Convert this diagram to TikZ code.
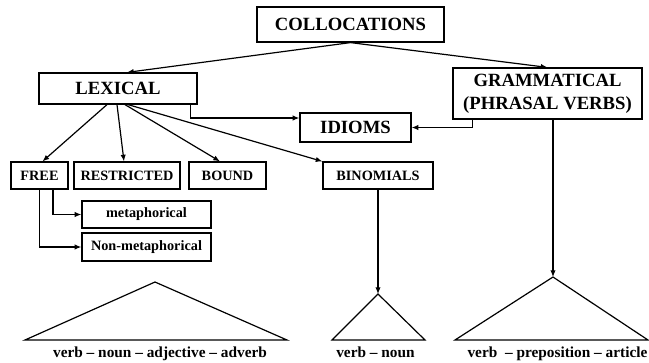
\documentclass[tikz,border=0pt]{standalone}
\usepackage{fontspec}
\setmainfont{Liberation Serif}
\usetikzlibrary{arrows.meta,calc}

\begin{document}
\begin{tikzpicture}[x=0.75pt,y=0.75pt,yscale=-1,xscale=1,
  box/.style={draw, line width=0.9pt, inner sep=0pt, align=center},
  bigtxt/.style={font=\fontsize{14}{17}\selectfont\bfseries},
  smalltxt/.style={font=\fontsize{10.7}{12}\selectfont\bfseries},
  basetxt/.style={font=\fontsize{11.5}{13}\selectfont\bfseries, inner sep=0pt, anchor=base},
  arr/.style={line width=0.9pt, -{Latex[length=5pt,width=4pt]}},
  tri/.style={line width=0.9pt, line join=miter}]
%set diagram to 649 x 362
\useasboundingbox (0,0) rectangle (649,362);

%Shape: Rectangle [top]
\node [box, bigtxt, minimum width=140.25pt, minimum height=26.25pt] (coll) at (350.5,24.5) {COLLOCATIONS};
%Shape: Rectangle [second row]
\node [box, bigtxt, minimum width=118.5pt, minimum height=23.25pt] (lex) at (118,88.5) {LEXICAL};
\node [box, bigtxt, minimum width=141.75pt, minimum height=38.25pt] (gram) at (547.5,93.5) {GRAMMATICAL\\(PHRASAL VERBS)};
\node [box, bigtxt, minimum width=83.25pt, minimum height=21.75pt] (idioms) at (355.5,127.5) {IDIOMS};
%Shape: Rectangle [third row]
\node [box, smalltxt, minimum width=42.75pt, minimum height=20.25pt] (free) at (39.5,175.5) {FREE};
\node [box, smalltxt, minimum width=79.5pt, minimum height=20.25pt] (restr) at (127,175.5) {RESTRICTED};
\node [box, smalltxt, minimum width=57.75pt, minimum height=20.25pt] (bound) at (227.5,175.5) {BOUND};
\node [box, smalltxt, minimum width=82.5pt, minimum height=20.25pt] (binom) at (378,175.5) {BINOMIALS};
\node [box, smalltxt, minimum width=96.75pt, minimum height=20.25pt] (meta) at (146.5,214.5) {metaphorical};
\node [box, smalltxt, minimum width=96.75pt, minimum height=21pt] (nonmeta) at (146.5,247) {Non-metaphorical};

%Shape: Triangle
\coordinate (t1top) at (155,282);
\coordinate (t2top) at (378,294);
\coordinate (t3top) at (553,277);
\draw [tri] (t1top) -- (287,340) -- (25,340) -- cycle;
\draw [tri] (t2top) -- (425,340) -- (332,340) -- cycle;
\draw [tri] (t3top) -- (648,340) -- (455,340) -- cycle;

%Straight Lines
\draw [arr] (coll.south) -- ($(lex.north)+(9,0)$);
\draw [arr] (coll.south) -- (gram.north);
\draw [arr] ($(lex.south east)+(-7,0)$) |- ($(idioms.west)+(0,-9.5)$);
\draw [arr] ($(gram.south west)+(20,0)$) |- (idioms.east);
\draw [arr] ($(lex.south)+(-11,0)$) -- ($(free.north)+(3,0)$);
\draw [arr] ($(lex.south)+(-1,0)$) -- ($(restr.north)+(-3,0)$);
\draw [arr] ($(lex.south)+(7,0)$) -- ($(bound.north)+(-7.5,0)$);
\draw [arr] ($(lex.south)+(10,0)$) -- (binom.north west);
\draw [arr] ($(free.south)+(13.5,0)$) |- (meta.west);
\draw [arr] (free.south) |- (nonmeta.west);
\draw [arr] (binom.south) -- (t2top);
\draw [arr] (gram.south -| t3top) -- (t3top);

% Text Node
\node [basetxt] (lab1) at (160,357) {verb -- noun -- adjective -- adverb};
% Text Node
\node [basetxt] (lab2) at (375.5,357) {verb -- noun};
% Text Node
\node [basetxt] (lab3) at (557.5,357) {verb~ -- preposition -- article};

\end{tikzpicture}
\end{document}
